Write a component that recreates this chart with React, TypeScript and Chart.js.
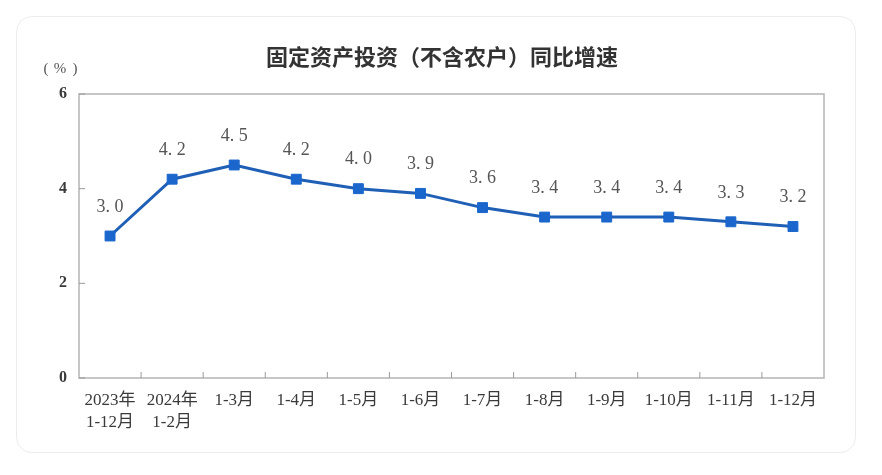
import React, { useEffect, useRef } from "react";
import { Chart, registerables } from "chart.js";

Chart.register(...registerables);

const categories: (string | string[])[] = [
  ["2023年", "1-12月"],
  ["2024年", "1-2月"],
  "1-3月",
  "1-4月",
  "1-5月",
  "1-6月",
  "1-7月",
  "1-8月",
  "1-9月",
  "1-10月",
  "1-11月",
  "1-12月",
];
const growth: number[] = [3.0, 4.2, 4.5, 4.2, 4.0, 3.9, 3.6, 3.4, 3.4, 3.4, 3.3, 3.2];
const yTicks: number[] = [0, 2, 4, 6];
const titleText = "固定资产投资（不含农户）同比增速";
const unitParts: string[] = ["(", "%", ")"];

const SERIF = '"Liberation Serif", "Noto Sans CJK SC", serif';
const SANS = '"Noto Sans CJK SC", "Noto Sans", sans-serif';

const decorPlugin = {
  id: "decor",
  afterDatasetsDraw(chart: any) {
    const { ctx, chartArea, scales } = chart;
    const xs = scales.x;
    const ys = scales.y;
    ctx.save();
    // plot frame
    ctx.strokeStyle = "#b4b4b4";
    ctx.lineWidth = 1.5;
    ctx.strokeRect(chartArea.left, chartArea.top, chartArea.right - chartArea.left, chartArea.bottom - chartArea.top);
    // inner ticks on y axis
    ctx.strokeStyle = "#9a9a9a";
    ctx.lineWidth = 1;
    yTicks.forEach((v) => {
      const y = ys.getPixelForValue(v);
      ctx.beginPath();
      ctx.moveTo(chartArea.left, y);
      ctx.lineTo(chartArea.left + 6, y);
      ctx.stroke();
    });
    // inner ticks on x axis at category boundaries
    for (let i = 1; i < categories.length; i++) {
      const x = (xs.getPixelForValue(i - 1) + xs.getPixelForValue(i)) / 2;
      ctx.beginPath();
      ctx.moveTo(x, chartArea.bottom);
      ctx.lineTo(x, chartArea.bottom - 6);
      ctx.stroke();
    }
    // data labels
    const meta = chart.getDatasetMeta(0);
    ctx.fillStyle = "#555555";
    ctx.font = `18px ${SERIF}`;
    ctx.textAlign = "center";
    ctx.textBaseline = "middle";
    meta.data.forEach((pt: any, i: number) => {
      const txt = growth[i].toFixed(1).replace(".", ". ");
      ctx.fillText(txt, pt.x, pt.y - 29);
    });
    // title
    ctx.fillStyle = "#333333";
    ctx.font = `bold 22px ${SANS}`;
    ctx.textAlign = "center";
    ctx.fillText(titleText, 442, 57);
    // unit
    ctx.fillStyle = "#555555";
    ctx.font = `15px ${SERIF}`;
    ctx.fillText(unitParts[0], 46, 69);
    ctx.fillText(unitParts[1], 60, 69);
    ctx.fillText(unitParts[2], 75, 69);
    ctx.restore();
  },
};

export default function App() {
  const ref = useRef<HTMLCanvasElement | null>(null);
  useEffect(() => {
    if (!ref.current) return;
    const chart = new Chart(ref.current, {
      type: "line",
      data: {
        labels: categories,
        datasets: [
          {
            data: growth,
            borderColor: "#1f5fb5",
            borderWidth: 3,
            backgroundColor: "#1a66cc",
            pointBackgroundColor: "#1a66cc",
            pointBorderColor: "#1a66cc",
            pointBorderWidth: 1,
            pointStyle: "rect",
            pointRadius: 7,
            tension: 0,
            fill: false,
          },
        ],
      },
      options: {
        responsive: true,
        maintainAspectRatio: false,
        animation: false,
        layout: { padding: { left: 0, right: 58, top: 94, bottom: 0 } },
        plugins: {
          legend: { display: false },
          title: { display: false },
          tooltip: { enabled: false },
        },
        scales: {
          x: {
            offset: true,
            grid: { display: false, drawTicks: false },
            border: { display: false },
            ticks: {
              color: "#3a3a3a",
              font: { family: SERIF, size: 17, lineHeight: 1.3 },
              padding: 11,
              maxRotation: 0,
              autoSkip: false,
            },
            afterFit: (s: any) => {
              s.height = 97;
            },
          },
          y: {
            min: 0,
            max: 6,
            grid: { display: false, drawTicks: false },
            border: { display: false },
            afterBuildTicks: (s: any) => {
              s.ticks = yTicks.map((v) => ({ value: v }));
            },
            ticks: {
              color: "#3a3a3a",
              font: { family: SERIF, size: 16, weight: "bold" },
              padding: 12,
            },
            afterFit: (s: any) => {
              s.width = 79;
            },
          },
        },
      },
      plugins: [decorPlugin],
    });
    return () => chart.destroy();
  }, []);

  return (
    <div style={{ position: "absolute", left: 0, top: 0, width: 882, height: 475, background: "#ffffff" }}>
      <div
        style={{
          position: "absolute",
          left: 16,
          top: 16,
          width: 838,
          height: 435,
          border: "1px solid #ececec",
          borderRadius: 16,
          background: "#ffffff",
        }}
      />
      <div style={{ position: "absolute", left: 0, top: 0, width: 882, height: 475 }}>
        <canvas ref={ref} />
      </div>
    </div>
  );
}
